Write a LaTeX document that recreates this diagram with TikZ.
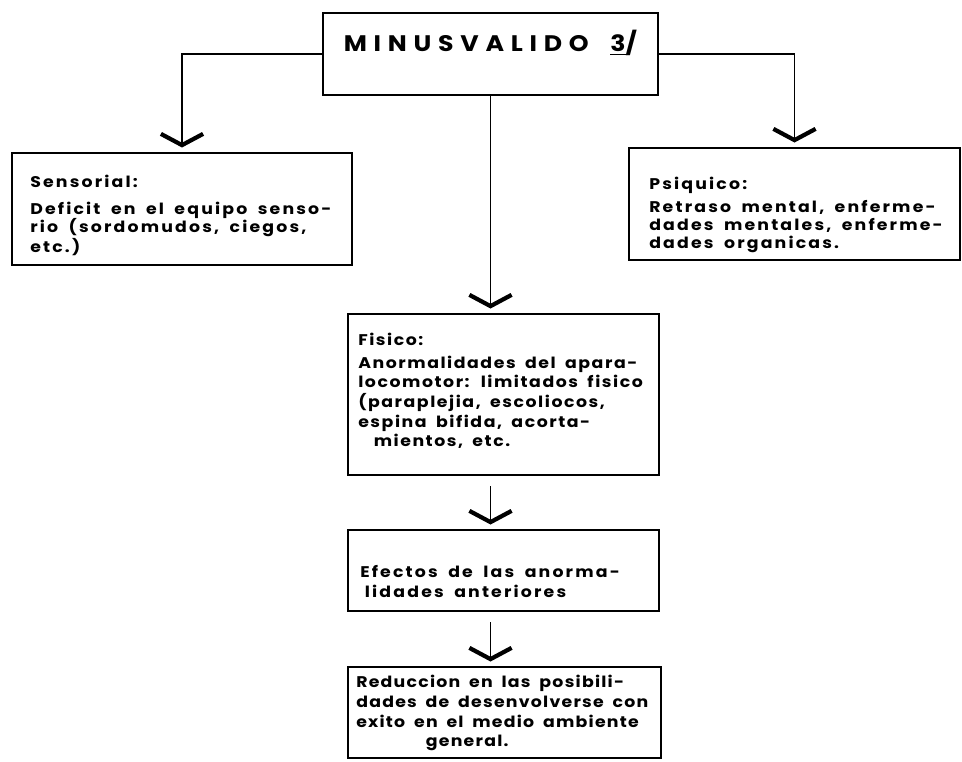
\documentclass[tikz,border=0pt]{standalone}
\usepackage{fontspec}
\setmainfont{Poppins}[LetterSpace=14, FakeStretch=1.12, WordSpace=1.8]
\usetikzlibrary{arrows.meta, fit}

\begin{document}
\begin{tikzpicture}[x=0.025cm, y=-0.025cm,
    every node/.style={font=\fontsize{11}{13}\selectfont\bfseries},
    box/.style={draw, line width=1.8pt, inner sep=0pt},
    txt/.style={align=left, anchor=north west, inner sep=0pt},
    link/.style={line width=1.3pt, shorten >=3pt,
      -{Straight Barb[length=8pt, width=30pt, line width=3pt]}},
  ]
  \useasboundingbox (0,0) rectangle (962,762);

  % Top box
  \node[box, fit={(323,13) (658,95)},
    font=\fontsize{16}{18}\selectfont\bfseries\addfontfeature{LetterSpace=30}] (minus)
    {MINUSVALIDO \underline{3}/};

  % Boxes
  \node[box, fit={(12,153) (352,265)}] (sensorial) {};
  \node[box, fit={(629,148) (960,260)}] (psiquico) {};
  \node[box, fit={(348,314) (659,475)}] (fisico) {};
  \node[box, fit={(348,530) (659,611)}] (efectos) {};
  \node[box, fit={(348,667) (661,758)}] (reduccion) {};

  % Texts
  \node[txt] (sensorialtxt) at (30,175) {Sensorial:\\[6pt]
    Deficit en el equipo senso-\\
    rio (sordomudos, ciegos,\\
    etc.)};
  \node[txt] (psiquicotxt) at (649,177) {Psiquico:\\[3pt]
    Retraso mental, enferme-\\
    dades mentales, enferme-\\
    dades organicas.};
  \node[txt, font=\fontsize{11}{14}\selectfont\bfseries\addfontfeature{LetterSpace=10}] (fisicotxt) at (358,333) {Fisico:\\[2pt]
    Anormalidades del apara-\\
    locomotor: limitados fisico\\
    (paraplejia, escoliocos,\\
    espina bifida, acorta-\\
    \hspace*{1em}mientos, etc.};
  \node[txt, font=\fontsize{11}{14}\selectfont\bfseries] (efectostxt) at (360,565) {Efectos de las anorma-\\
    \hspace*{0.3em}lidades anteriores};
  \node[txt, font=\fontsize{11}{14}\selectfont\bfseries\addfontfeature{LetterSpace=8}] (reducciontxt) at (356,675) {Reduccion en las posibili-\\
    dades de desenvolverse con\\
    exito en el medio ambiente\\
    \hspace*{4.5em}general.};

  % Connectors
  \draw[link] (minus.west) -| (sensorial.north);
  \draw[link] (minus.east) -| (psiquico.north);
  \draw[link] (minus.south) -- (minus.south |- fisico.north);
  \draw[link, shorten <=7pt] (minus.south |- fisico.south) -- (minus.south |- efectos.north);
  \draw[link, shorten <=7pt] (minus.south |- efectos.south) -- (minus.south |- reduccion.north);
\end{tikzpicture}
\end{document}
